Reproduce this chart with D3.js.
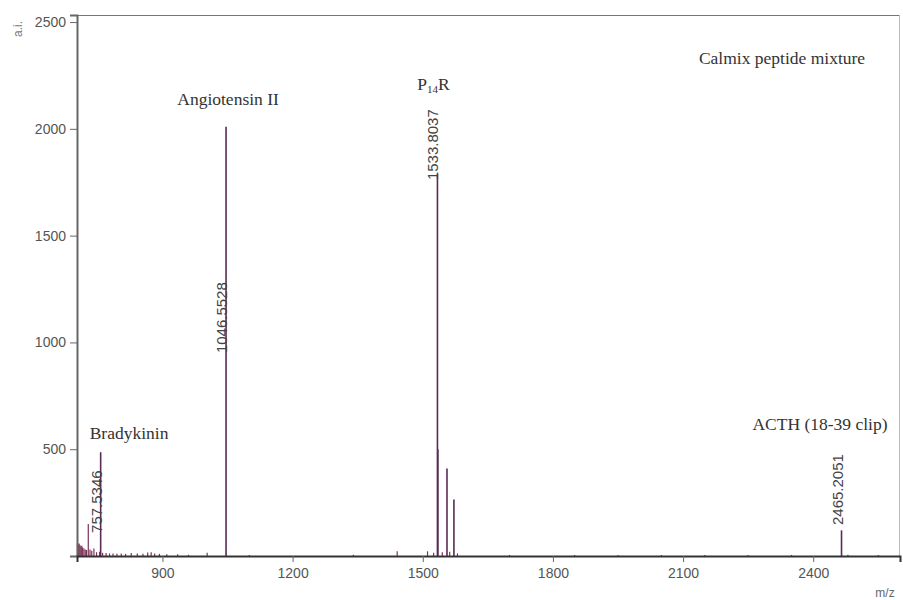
<!DOCTYPE html>
<html>
<head>
<meta charset="utf-8">
<script src="https://cdn.jsdelivr.net/npm/d3@7"></script>
<style>
  html, body { margin: 0; padding: 0; background: #fff; }
  svg { display: block; }
</style>
</head>
<body>
<svg id="chart" width="903" height="600"></svg>
<script>
// ---- data ----
const xDomain = [703, 2600];
const yDomain = [0, 2533];
const xTicks = [900, 1200, 1500, 1800, 2100, 2400];
const yTicks = [500, 1000, 1500, 2000, 2500];

// main peaks (m/z, intensity a.i.)
const peakMz =        [757.5346, 1046.5528, 1533.8037, 1534.8, 1555.8, 1571.8, 2465.2051];
const peakIntensity = [486,      2010,      1790,      500,    410,    265,    120];

// small peaks / noise
const noiseMz =        [704, 706, 708, 710, 712, 714, 716, 719, 722, 725, 729, 733, 737, 742, 748, 755, 762, 770, 778, 786, 795, 805, 815, 828, 842, 855, 866, 874, 882, 893, 910, 935, 960, 1003, 1100, 1340, 1441, 1511, 1525, 1545, 1562, 1580, 1700, 1850, 1950, 2050, 2150, 2250, 2350, 2480, 2550];
const noiseIntensity = [60,  55,  58,  50,  45,  48,  40,  35,  30,  28,  150, 30,  25,  35,  18,  20,  15,  14,  12,  12,  10,  12,  10,  14,  12,  10,  16,  18,  12,  10,  8,   8,   6,   15,  5,   6,   22,  22,  15,  18,  20,  12,  5,   5,   5,   5,   5,   5,   5,   6,   5];

// labels
const compoundNames = ["Bradykinin", "Angiotensin II", "P14R", "ACTH (18-39 clip)"];
const peakLabels = ["757.5346", "1046.5528", "1533.8037", "2465.2051"];
const peakLabelMz = [757.5346, 1046.5528, 1533.8037, 2465.2051];
const peakLabelAt = [108, 950, 1760, 145];   // intensity where the rotated label starts
const titleText = "Calmix peptide mixture";

// ---- drawing ----
const svg = d3.select("#chart");
const mLeft = 77, mRight = 900, mTop = 15, mBottom = 556;

const x = d3.scaleLinear().domain(xDomain).range([mLeft, mRight]);
const y = d3.scaleLinear().domain(yDomain).range([mBottom, mTop]);

const peakColor = "#5a2a55";
const noiseColor = "#7a3458";
const axisColor = "#666";
const textGray = "#555";

// frame: top and right
svg.append("line").attr("x1", mLeft).attr("x2", mRight).attr("y1", mTop + 0.5).attr("y2", mTop + 0.5)
  .attr("stroke", "#777").attr("stroke-width", 1);
svg.append("line").attr("x1", mRight - 0.5).attr("x2", mRight - 0.5).attr("y1", mTop).attr("y2", mBottom)
  .attr("stroke", "#bbb").attr("stroke-width", 1);

// noise
svg.append("g").selectAll("line").data(noiseMz).join("line")
  .attr("x1", d => x(d)).attr("x2", d => x(d))
  .attr("y1", y(0)).attr("y2", (d, i) => y(noiseIntensity[i]))
  .attr("stroke", noiseColor).attr("stroke-width", 1.2);

// peaks
svg.append("g").selectAll("line").data(peakMz).join("line")
  .attr("x1", d => x(d)).attr("x2", d => x(d))
  .attr("y1", y(0)).attr("y2", (d, i) => y(peakIntensity[i]))
  .attr("stroke", peakColor).attr("stroke-width", 1.6);

// y axis
const yAxis = d3.axisLeft(y).tickValues(yTicks).tickSize(7).tickPadding(4).tickFormat(d3.format("d"));
const gy = svg.append("g").attr("transform", `translate(${mLeft},0)`).call(yAxis);
gy.select(".domain").attr("stroke", axisColor).attr("stroke-width", 2);
gy.selectAll(".tick line").attr("stroke", axisColor);
gy.selectAll(".tick text").attr("fill", textGray).attr("font-family", "Liberation Sans, Arial, sans-serif").attr("font-size", 14);

// x axis
const xAxis = d3.axisBottom(x).tickValues(xTicks).tickSize(6).tickPadding(6).tickFormat(d3.format("d"));
const gx = svg.append("g").attr("transform", `translate(0,${mBottom})`).call(xAxis);
gx.select(".domain").attr("stroke", "#333").attr("stroke-width", 2);
gx.selectAll(".tick line").attr("stroke", axisColor);
gx.selectAll(".tick text").attr("fill", textGray).attr("font-family", "Liberation Sans, Arial, sans-serif").attr("font-size", 14);

// axis titles
svg.append("text").attr("transform", "translate(22,29) rotate(-90)")
  .attr("text-anchor", "middle").attr("fill", "#777")
  .attr("font-family", "Liberation Sans, Arial, sans-serif").attr("font-size", 12).text("a.i.");
svg.append("text").attr("x", 885).attr("y", 597).attr("text-anchor", "middle").attr("fill", "#666")
  .attr("font-family", "Liberation Sans, Arial, sans-serif").attr("font-size", 12).text("m/z");

// rotated peak labels
svg.append("g").selectAll("text").data(peakLabels).join("text")
  .attr("transform", (d, i) => `translate(${x(peakLabelMz[i]) + 1},${y(peakLabelAt[i])}) rotate(-90)`)
  .attr("text-anchor", "start").attr("fill", "#444")
  .attr("font-family", "Liberation Sans, Arial, sans-serif").attr("font-size", 15)
  .text(d => d);

// compound names (serif)
const serif = "Liberation Serif, Times New Roman, serif";
const nameMz = [757.5346, 1046.5528, 1533.8037, 2465.2051];
const nameAt = [548, 2110, 2180, 590];
const nameAnchor = ["start", "middle", "middle", "end"];
const nameDx = [-11, 2, -4, 46];
svg.append("g").selectAll("text").data(compoundNames).join("text")
  .attr("x", (d, i) => x(nameMz[i]) + nameDx[i])
  .attr("y", (d, i) => y(nameAt[i]))
  .attr("text-anchor", (d, i) => nameAnchor[i])
  .attr("fill", "#333").attr("font-family", serif).attr("font-size", 17.5)
  .each(function(d) {
    const t = d3.select(this);
    if (d === "P14R") {
      t.append("tspan").text("P");
      t.append("tspan").attr("font-size", 11).attr("dy", 3).text("14");
      t.append("tspan").attr("dy", -3).text("R");
    } else {
      t.text(d);
    }
  });

svg.append("text").attr("x", 782).attr("y", 64).attr("text-anchor", "middle")
  .attr("fill", "#333").attr("font-family", serif).attr("font-size", 17.5).text(titleText);
</script>
</body>
</html>
